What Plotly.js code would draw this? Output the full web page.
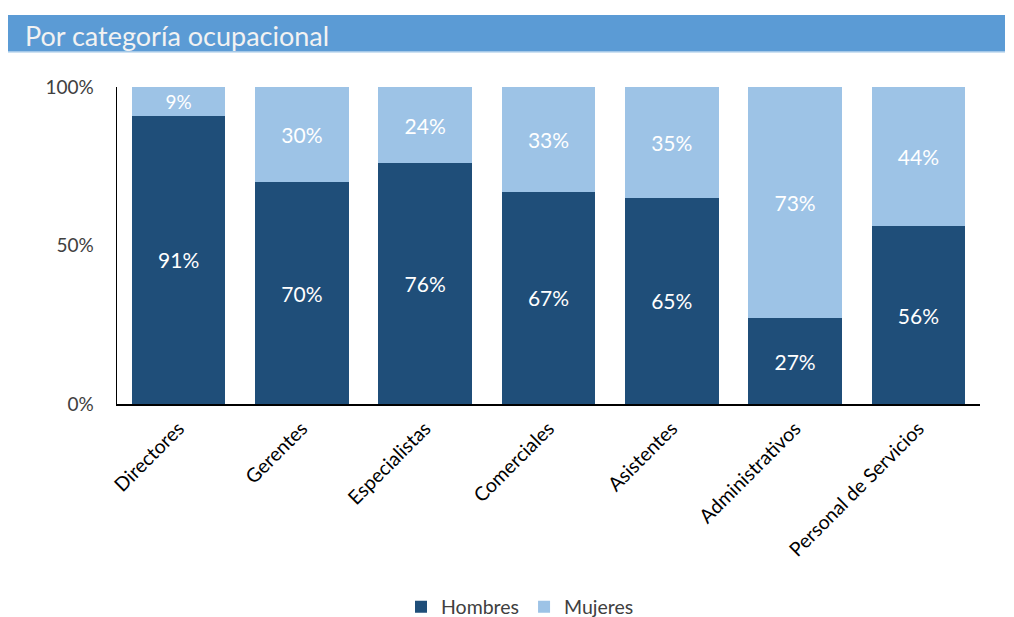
<!DOCTYPE html>
<html>
<head>
<meta charset="utf-8">
<script src="https://cdn.plot.ly/plotly-3.0.1.min.js"></script>
<style>html,body{margin:0;padding:0;background:#fff;}#chart{width:1014px;height:617px;}</style>
</head>
<body>
<div id="chart"></div>
<script>
const categories = ["Directores", "Gerentes", "Especialistas", "Comerciales", "Asistentes", "Administrativos", "Personal de Servicios"];
const hombres = [0.91, 0.70, 0.76, 0.67, 0.65, 0.27, 0.56];
const mujeres = [0.09, 0.30, 0.24, 0.33, 0.35, 0.73, 0.44];
const yTickVals = [0, 0.5, 1];
const yTickText = ["0%", "50%", "100%"];

const FONT = "Lato, 'Open Sans', sans-serif";

const traces = [
  {
    type: "bar", name: "Hombres", x: categories, y: hombres,
    marker: {color: "#1F4E79"},
    texttemplate: "%{y:.0%}", textposition: "inside", insidetextanchor: "middle",
    textfont: {color: "#ffffff", size: 21, family: FONT},
    hoverinfo: "skip"
  },
  {
    type: "bar", name: "Mujeres", x: categories, y: mujeres,
    marker: {color: "#9DC3E6"},
    texttemplate: "%{y:.0%}", textposition: "inside", insidetextanchor: "middle",
    textfont: {color: "#ffffff", size: 21, family: FONT},
    hoverinfo: "skip"
  }
];

const L = 117, R = 980, T = 87, B = 404;
const W = R - L, H = B - T;
const px = v => (v - L) / W;
const py = v => (B - v) / H;

const layout = {
  width: 1014, height: 617,
  margin: {l: L, r: 1014 - R, t: T, b: 617 - B, autoexpand: false},
  paper_bgcolor: "#ffffff", plot_bgcolor: "#ffffff",
  barmode: "stack", bargap: 0.24,
  font: {family: FONT, color: "#404040", size: 17},
  showlegend: true,
  legend: {orientation: "h", xref: "container", yref: "container",
           x: 520 / 1014, xanchor: "center", y: 1 - 607 / 617, yanchor: "middle",
           font: {size: 19.5, color: "#404040", family: FONT}, traceorder: "normal",
           itemwidth: 30},
  xaxis: {
    type: "category", range: [-0.5, 6.5], tickangle: -45, automargin: false,
    showline: true, linecolor: "#000000", linewidth: 1.5,
    ticks: "", showgrid: false, zeroline: false, ticklabelstandoff: 4,
    tickfont: {size: 19.5, color: "#000000", family: FONT}
  },
  yaxis: {
    range: [0, 1], tickvals: yTickVals, ticktext: yTickText, automargin: false,
    showline: true, linecolor: "#000000", linewidth: 1.5,
    ticks: "", showgrid: false, zeroline: false, ticklabelstandoff: 18,
    tickfont: {size: 19, color: "#404040", family: FONT}
  },
  shapes: [
    {type: "rect", xref: "paper", yref: "paper", x0: px(8), x1: px(1005), y0: py(52), y1: py(15),
     fillcolor: "#5B9BD5", line: {width: 0}, layer: "below"},
    {type: "line", xref: "paper", yref: "paper", x0: px(8), x1: px(1005), y0: py(52), y1: py(52),
     line: {color: "#BDD7EE", width: 1.5}}
  ],
  annotations: [
    {xref: "paper", yref: "paper", x: px(23), y: py(36), xanchor: "left", yanchor: "middle",
     text: "Por categoría ocupacional", showarrow: false,
     font: {size: 27, color: "#F2F2F2", family: FONT}}
  ]
};

Plotly.newPlot("chart", traces, layout, {displayModeBar: false, staticPlot: true});
</script>
</body>
</html>
